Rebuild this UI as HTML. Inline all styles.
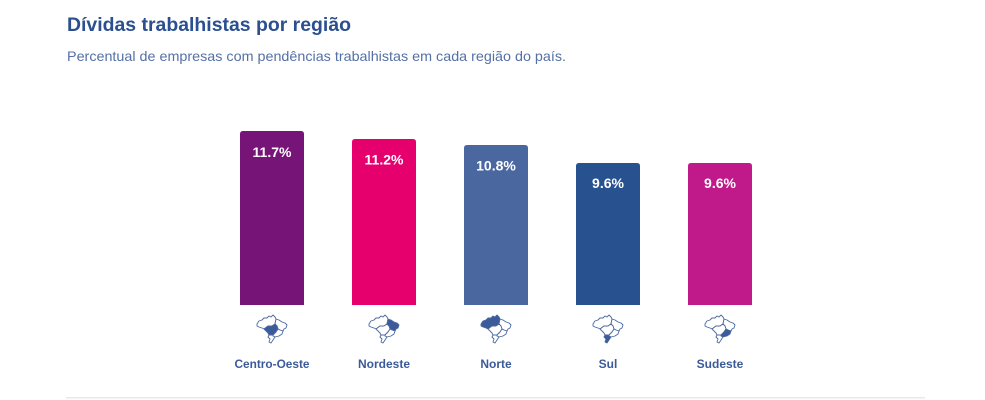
<!DOCTYPE html>
<html><head><meta charset="utf-8"><style>
html,body{margin:0;padding:0;background:#fff;}
svg{display:block;font-family:"Liberation Sans",Arial,sans-serif;}
.m path{fill:#fff;stroke:#4a67a0;stroke-width:0.9;stroke-linejoin:round;}
.m path.h{fill:#3d5a9a;}
</style></head><body>
<svg width="985" height="400" viewBox="0 0 985 400" xmlns="http://www.w3.org/2000/svg">
<rect width="985" height="400" fill="#fff"/>
<text x="67" y="31" font-size="19.5" font-weight="bold" fill="#2b4f8f" textLength="284" lengthAdjust="spacingAndGlyphs">Dívidas trabalhistas por região</text>
<text x="67" y="61" font-size="14" fill="#5470a6" textLength="499" lengthAdjust="spacingAndGlyphs">Percentual de empresas com pendências trabalhistas em cada região do país.</text>

<path d="M240,305 V134 Q240,131 243,131 H301 Q304,131 304,134 V305 Z" fill="#761477"/>
<path d="M352,305 V142 Q352,139 355,139 H413 Q416,139 416,142 V305 Z" fill="#e6006e"/>
<path d="M464,305 V148 Q464,145 467,145 H525 Q528,145 528,148 V305 Z" fill="#4a67a0"/>
<path d="M576,305 V166 Q576,163 579,163 H637 Q640,163 640,166 V305 Z" fill="#27528f"/>
<path d="M688,305 V166 Q688,163 691,163 H749 Q752,163 752,166 V305 Z" fill="#c0198a"/>

<g font-size="14" font-weight="bold" fill="#fff" text-anchor="middle">
<text x="272" y="157">11.7%</text>
<text x="384" y="164.5">11.2%</text>
<text x="496" y="170.5">10.8%</text>
<text x="608" y="188">9.6%</text>
<text x="720" y="188">9.6%</text>
</g>

<g class="m" transform="translate(256,314)">
<path d="M1,10 L3,7 L6,6 L8,4 L11,4 L13,2 L15,3 L17,1 L19,3 L20,5 L19,10 L16,12 L12,12 L8,15 L6,14 L3,13 L1,12 Z"/>
<path d="M20,5 L23,6 L26,8 L29,9 L31,11 L30,14 L28,15 L27,17 L24,16 L22,15 L21,12 L19,10 Z"/>
<path class="h" d="M8,15 L12,12 L16,12 L19,10 L21,12 L22,15 L20,18 L17,21 L13,21 L12,19 L10,17 Z"/>
<path d="M22,15 L24,16 L27,17 L26,20 L23,22 L19,23 L17,22 L17,21 L20,18 Z"/>
<path d="M13,21 L17,21 L17,22 L19,23 L17,26 L15,29 L13,28 L14,25 L12,23 Z"/>
</g>
<g class="m" transform="translate(368,314)">
<path d="M1,10 L3,7 L6,6 L8,4 L11,4 L13,2 L15,3 L17,1 L19,3 L20,5 L19,10 L16,12 L12,12 L8,15 L6,14 L3,13 L1,12 Z"/>
<path class="h" d="M20,5 L23,6 L26,8 L29,9 L31,11 L30,14 L28,15 L27,17 L24,16 L22,15 L21,12 L19,10 Z"/>
<path d="M8,15 L12,12 L16,12 L19,10 L21,12 L22,15 L20,18 L17,21 L13,21 L12,19 L10,17 Z"/>
<path d="M22,15 L24,16 L27,17 L26,20 L23,22 L19,23 L17,22 L17,21 L20,18 Z"/>
<path d="M13,21 L17,21 L17,22 L19,23 L17,26 L15,29 L13,28 L14,25 L12,23 Z"/>
</g>
<g class="m" transform="translate(480,314)">
<path class="h" d="M1,10 L3,7 L6,6 L8,4 L11,4 L13,2 L15,3 L17,1 L19,3 L20,5 L19,10 L16,12 L12,12 L8,15 L6,14 L3,13 L1,12 Z"/>
<path d="M20,5 L23,6 L26,8 L29,9 L31,11 L30,14 L28,15 L27,17 L24,16 L22,15 L21,12 L19,10 Z"/>
<path d="M8,15 L12,12 L16,12 L19,10 L21,12 L22,15 L20,18 L17,21 L13,21 L12,19 L10,17 Z"/>
<path d="M22,15 L24,16 L27,17 L26,20 L23,22 L19,23 L17,22 L17,21 L20,18 Z"/>
<path d="M13,21 L17,21 L17,22 L19,23 L17,26 L15,29 L13,28 L14,25 L12,23 Z"/>
</g>
<g class="m" transform="translate(592,314)">
<path d="M1,10 L3,7 L6,6 L8,4 L11,4 L13,2 L15,3 L17,1 L19,3 L20,5 L19,10 L16,12 L12,12 L8,15 L6,14 L3,13 L1,12 Z"/>
<path d="M20,5 L23,6 L26,8 L29,9 L31,11 L30,14 L28,15 L27,17 L24,16 L22,15 L21,12 L19,10 Z"/>
<path d="M8,15 L12,12 L16,12 L19,10 L21,12 L22,15 L20,18 L17,21 L13,21 L12,19 L10,17 Z"/>
<path d="M22,15 L24,16 L27,17 L26,20 L23,22 L19,23 L17,22 L17,21 L20,18 Z"/>
<path class="h" d="M13,21 L17,21 L17,22 L19,23 L17,26 L15,29 L13,28 L14,25 L12,23 Z"/>
</g>
<g class="m" transform="translate(704,314)">
<path d="M1,10 L3,7 L6,6 L8,4 L11,4 L13,2 L15,3 L17,1 L19,3 L20,5 L19,10 L16,12 L12,12 L8,15 L6,14 L3,13 L1,12 Z"/>
<path d="M20,5 L23,6 L26,8 L29,9 L31,11 L30,14 L28,15 L27,17 L24,16 L22,15 L21,12 L19,10 Z"/>
<path d="M8,15 L12,12 L16,12 L19,10 L21,12 L22,15 L20,18 L17,21 L13,21 L12,19 L10,17 Z"/>
<path class="h" d="M22,15 L24,16 L27,17 L26,20 L23,22 L19,23 L17,22 L17,21 L20,18 Z"/>
<path d="M13,21 L17,21 L17,22 L19,23 L17,26 L15,29 L13,28 L14,25 L12,23 Z"/>
</g>

<g font-size="12" font-weight="bold" fill="#3b5a9a" text-anchor="middle">
<text x="272" y="368" textLength="75" lengthAdjust="spacingAndGlyphs">Centro-Oeste</text>
<text x="384" y="368">Nordeste</text>
<text x="496" y="368">Norte</text>
<text x="608" y="368">Sul</text>
<text x="720" y="368">Sudeste</text>
</g>

<rect x="66" y="397" width="859" height="1.5" fill="#e8e9ec"/>
</svg>
</body></html>
